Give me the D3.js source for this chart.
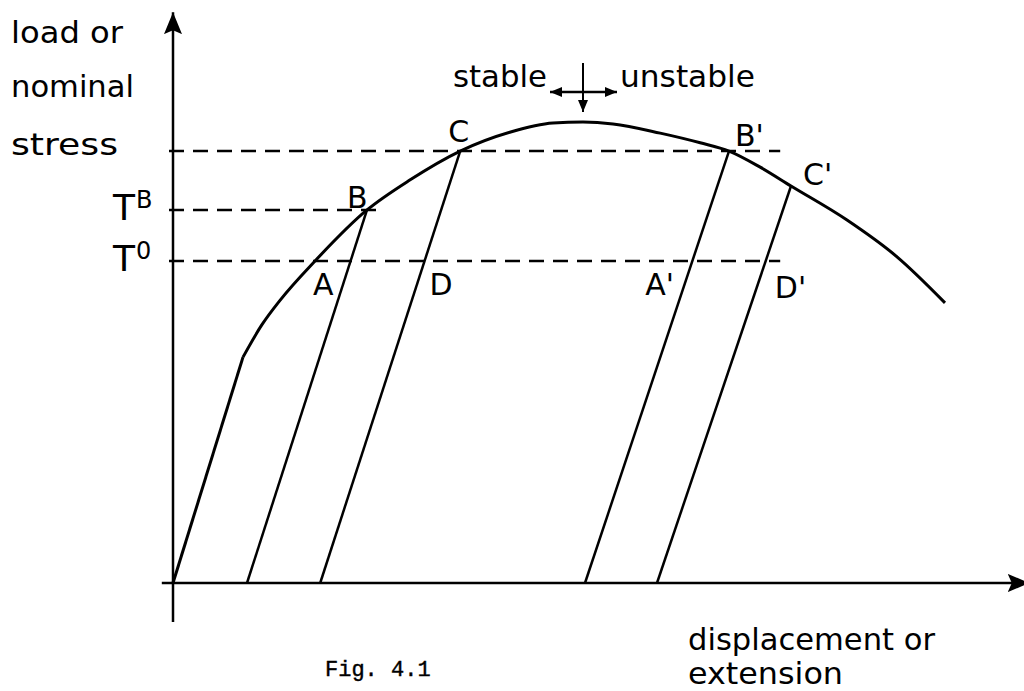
<!DOCTYPE html>
<html>
<head>
<meta charset="utf-8">
<script src="https://cdn.jsdelivr.net/npm/d3@7"></script>
<style>
  html, body { margin: 0; padding: 0; background: #fff; }
  svg { display: block; }
  text { font-family: "DejaVu Sans", sans-serif; fill: #000; }
</style>
</head>
<body>
<div id="container"></div>
<script>
const width = 1024
const height = 691

/* DATA (displacement u, load v; peak load = 100) */
// load-displacement curve, first segment is the straight elastic part
const curveU = [0, 8.75, 11.1, 13.4, 17.75, 24.25, 29.6, 35.9, 42.1, 47.5, 51.25, 55, 60.9, 65.9, 69.5, 73.4, 77.25, 84.25, 90.5, 96.5]
const curveV = [0, 49.1, 56.1, 61.5, 70, 81.1, 87.6, 93.9, 98, 100, 100.2, 99.8, 97.8, 95.7, 93.9, 90.4, 86.3, 78.9, 70.9, 60.9]

// unloading lines: from point on curve down to the displacement axis
const unloadTopU = [24.25, 35.9, 69.5, 77.25]
const unloadTopV = [81.1, 93.9, 93.9, 86.3]
const unloadFootU = [9.25, 18.4, 51.5, 60.5]

// dashed load levels
const levelLabel = ["", "T", "T"]
const levelSup = ["", "B", "0"]
const levelV = [93.9, 81.1, 70]
const levelEndU = [75.9, 26.25, 75.9]

// labelled points
const pointNames = ["A", "B", "C", "D", "A'", "B'", "C'", "D'"]
const pointU = [17.75, 24.25, 35.9, 31.45, 64.9, 69.5, 77.25, 74.1]
const pointV = [70, 81.1, 93.9, 70, 70, 93.9, 86.3, 70]

const peakU = 51.25

// SVG
const svg = d3.select("#container")
  .append("svg")
    .attr("width", width)
    .attr("height", height)

// SCALES
const xScale = d3.scaleLinear().domain([0, 100]).range([173, 973])
const yScale = d3.scaleLinear().domain([0, 100]).range([583, 123])

// arrow heads
const defs = svg.append("defs")
defs.append("marker")
    .attr("id", "bigArrow")
    .attr("viewBox", "0 -10 22 20")
    .attr("refX", 22).attr("refY", 0)
    .attr("markerWidth", 22).attr("markerHeight", 20)
    .attr("markerUnits", "userSpaceOnUse")
    .attr("orient", "auto")
  .append("path")
    .attr("d", "M0,-9 L22,0 L0,9 L4,0 Z")
    .attr("fill", "#000")
defs.append("marker")
    .attr("id", "smallArrow")
    .attr("viewBox", "0 -6 12 12")
    .attr("refX", 12).attr("refY", 0)
    .attr("markerWidth", 12).attr("markerHeight", 12)
    .attr("markerUnits", "userSpaceOnUse")
    .attr("orient", "auto-start-reverse")
  .append("path")
    .attr("d", "M0,-5 L12,0 L0,5 Z")
    .attr("fill", "#000")

// AXES (plain arrows, no ticks)
svg.append("line")
    .attr("x1", xScale(-1.4)).attr("y1", yScale(0))
    .attr("x2", xScale(107.1)).attr("y2", yScale(0))
    .attr("stroke", "#000").attr("stroke-width", 2.5)
    .attr("marker-end", "url(#bigArrow)")
svg.append("line")
    .attr("x1", xScale(0)).attr("y1", yScale(-8.5))
    .attr("x2", xScale(0)).attr("y2", yScale(124.1))
    .attr("stroke", "#000").attr("stroke-width", 2.5)
    .attr("marker-end", "url(#bigArrow)")

// dashed levels
svg.selectAll("line.level")
    .data(levelV)
    .enter()
    .append("line")
    .attr("class", "level")
    .attr("x1", xScale(-0.5))
    .attr("x2", (d, i) => xScale(levelEndU[i]))
    .attr("y1", d => yScale(d))
    .attr("y2", d => yScale(d))
    .attr("stroke", "#000")
    .attr("stroke-width", 2.5)
    .attr("stroke-dasharray", "15,9")

// the curve
const curveData = curveU.map((u, i) => ({u: u, v: curveV[i]}))
const line = d3.line().x(d => xScale(d.u)).y(d => yScale(d.v))

svg.append("path")
    .datum(curveData.slice(0, 2))
    .attr("fill", "none")
    .attr("stroke", "#000")
    .attr("stroke-width", 3)
    .attr("d", line)
svg.append("path")
    .datum(curveData.slice(1))
    .attr("fill", "none")
    .attr("stroke", "#000")
    .attr("stroke-width", 3)
    .attr("stroke-linejoin", "round")
    .attr("d", line.curve(d3.curveMonotoneX))

// unloading lines
svg.selectAll("line.unload")
    .data(unloadTopU)
    .enter()
    .append("line")
    .attr("class", "unload")
    .attr("x1", d => xScale(d))
    .attr("y1", (d, i) => yScale(unloadTopV[i]))
    .attr("x2", (d, i) => xScale(unloadFootU[i]))
    .attr("y2", yScale(0))
    .attr("stroke", "#000")
    .attr("stroke-width", 2.5)

// point labels (offsets from the point, px)
const labelOffset = {
  "A": [-2, 34], "B": [-20, -2], "C": [-12, -9], "D": [5, 34],
  "A'": [-47, 34], "B'": [6, -5], "C'": [12, -1], "D'": [9, 37]
}
svg.selectAll("text.pt")
    .data(pointNames)
    .enter()
    .append("text")
    .attr("class", "pt")
    .attr("x", (d, i) => xScale(pointU[i]) + labelOffset[d][0])
    .attr("y", (d, i) => yScale(pointV[i]) + labelOffset[d][1])
    .style("font-size", "30px")
    .text(d => d)

// level labels T^B, T^0
levelV.forEach((v, i) => {
  if (!levelLabel[i]) return
  const t = svg.append("text")
      .attr("x", 113)
      .attr("y", yScale(v) + 10)
      .style("font-size", "36px")
  t.append("tspan").text(levelLabel[i])
  t.append("tspan")
      .attr("dx", 1)
      .attr("dy", -12)
      .style("font-size", "24px")
      .text(levelSup[i])
})

// axis titles
const yTitle = ["load or", "nominal", "stress"]
const yTitleBase = [43, 97, 155]
const yTitleLen = [112, 123, 107]
svg.selectAll("text.ytitle")
    .data(yTitle)
    .enter()
    .append("text")
    .attr("class", "ytitle")
    .attr("x", 11)
    .attr("y", (d, i) => yTitleBase[i])
    .attr("textLength", (d, i) => yTitleLen[i])
    .attr("lengthAdjust", "spacingAndGlyphs")
    .style("font-size", "30px")
    .text(d => d)

svg.append("text")
    .attr("x", 688).attr("y", 650)
    .attr("textLength", 247)
    .attr("lengthAdjust", "spacingAndGlyphs")
    .style("font-size", "30px")
    .text("displacement or")
svg.append("text")
    .attr("x", 688).attr("y", 684)
    .attr("textLength", 155)
    .attr("lengthAdjust", "spacingAndGlyphs")
    .style("font-size", "30px")
    .text("extension")

// stable / unstable marker at the peak
svg.append("line")
    .attr("x1", xScale(peakU)).attr("y1", 63)
    .attr("x2", xScale(peakU)).attr("y2", 112)
    .attr("stroke", "#000").attr("stroke-width", 2)
    .attr("marker-end", "url(#smallArrow)")
svg.append("line")
    .attr("x1", xScale(peakU) - 33).attr("y1", 92)
    .attr("x2", xScale(peakU) + 34).attr("y2", 92)
    .attr("stroke", "#000").attr("stroke-width", 2.5)
    .attr("marker-start", "url(#smallArrow)")
    .attr("marker-end", "url(#smallArrow)")
svg.append("text")
    .attr("x", 453).attr("y", 87)
    .attr("textLength", 94)
    .attr("lengthAdjust", "spacingAndGlyphs")
    .style("font-size", "30px")
    .text("stable")
svg.append("text")
    .attr("x", 620).attr("y", 87)
    .attr("textLength", 135)
    .attr("lengthAdjust", "spacingAndGlyphs")
    .style("font-size", "30px")
    .text("unstable")

// caption
svg.append("text")
    .attr("x", 325).attr("y", 676)
    .style("font-family", "'Liberation Mono', 'DejaVu Sans Mono', monospace")
    .style("font-size", "22px")
    .style("stroke", "#000")
    .style("stroke-width", 0.4)
    .text("Fig. 4.1")
</script>
</body>
</html>
